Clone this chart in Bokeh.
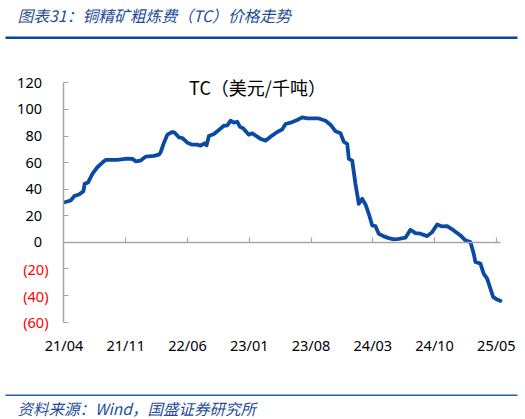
from bokeh.plotting import figure
from bokeh.models import (FixedTicker, LinearAxis, Range1d, Label, LabelSet,
                          ColumnDataSource, BoxAnnotation)
from bokeh.core.properties import value
from bokeh.embed import file_html
from bokeh.resources import INLINE

# months elapsed since 2021-04 (x), TC in USD/t (y)
months = [0.08, 0.76, 1.21, 1.70, 2.20, 2.34, 2.72, 3.22, 3.78, 4.35, 4.72, 6.05,
          7.18, 7.75, 8.12, 8.69, 9.25, 10.19, 10.76, 10.95, 11.33, 11.71, 12.28,
          12.54, 13.02, 13.41, 13.98, 14.54, 15.11, 15.48, 15.93, 16.16, 16.42,
          16.99, 17.55, 18.12, 18.51, 18.88, 19.25, 19.64, 19.93, 20.32, 20.95,
          21.34, 21.90, 22.28, 22.65, 22.84, 23.41, 24.17, 24.73, 25.11, 25.68,
          26.43, 27.00, 27.57, 28.31, 28.88, 29.64, 30.20, 30.77, 31.34, 31.71,
          32.10, 32.28, 32.66, 33.03, 33.41, 33.79, 34.17, 34.54, 34.93, 35.30,
          35.67, 36.24, 36.81, 37.37, 37.94, 38.70, 39.26, 39.83, 40.40, 41.16,
          41.72, 42.29, 42.85, 43.42, 44.17, 44.93, 45.49, 46.06, 46.43, 46.63,
          47.19, 47.56, 47.95, 48.32, 48.63, 49.08, 49.46]
tc = [30.2, 31.5, 35.0, 36.0, 38.5, 44.0, 45.0, 51.5, 56.5, 60.0, 62.0, 62.0,
      63.0, 62.8, 61.0, 61.5, 64.5, 65.0, 66.0, 67.7, 75.0, 81.0, 83.0,
      82.5, 79.0, 78.5, 75.0, 73.5, 73.5, 72.7, 74.5, 73.0, 80.0,
      81.5, 84.5, 87.7, 88.0, 91.5, 90.0, 90.7, 87.0, 85.7, 81.0,
      82.0, 79.5, 77.8, 77.0, 76.5, 79.5, 83.0, 85.0, 89.0, 90.0,
      92.0, 94.0, 93.2, 93.2, 93.2, 91.5, 88.5, 83.5, 82.0, 75.7,
      74.0, 62.8, 61.5, 44.0, 29.0, 32.8, 28.5, 21.5, 12.7, 12.2,
      6.5, 4.5, 3.2, 2.2, 2.7, 3.5, 9.5, 7.0, 6.5, 4.7,
      7.7, 13.5, 12.0, 12.2, 9.0, 5.2, 1.5, 0.2, -8.5, -14.8,
      -16.0, -23.5, -27.3, -34.7, -41.0, -43.0, -44.0]

x_tick_months = [0, 7, 14, 21, 28, 35, 42, 49]
x_tick_labels = ["21/04", "21/11", "22/06", "23/01", "23/08", "24/03", "24/10", "25/05"]
y_ticks_pos = [0, 20, 40, 60, 80, 100, 120]
y_ticks_neg = [-20, -40, -60]
y_labels_neg = ["(20)", "(40)", "(60)"]

chart_title = "TC（美元/千吨）"
header = "图表31：铜精矿粗炼费（TC）价格走势"
footer = "资料来源：Wind，国盛证券研究所"

BLUE = "#1f4e99"
LINE_BLUE = "#0a4aa3"
GRAY = "#a6a6a6"
W, H = 525, 419
X_END = 49.5          # end of the plotted time axis
Y_MIN, Y_MAX = -60, 120

# The frame fills the whole canvas; the axes sit at fixed data positions
p = figure(width=W, height=H, output_backend="svg", toolbar_location=None, title=None,
           x_range=Range1d(-7.196, 52.30), y_range=Range1d(-133.2, 181.9),
           min_border=0, x_axis_location=None, y_axis_location=None)
p.outline_line_color = None
p.xgrid.visible = False
p.ygrid.visible = False
p.background_fill_color = "white"
p.border_fill_color = "white"

LBL_FONT = "Noto Sans"
LBL_SIZE = "14.5px"

# left axis
yax = LinearAxis(ticker=FixedTicker(ticks=y_ticks_pos + y_ticks_neg),
                 fixed_location=0, bounds=(Y_MIN, Y_MAX))
yax.major_label_overrides = {**{t: str(t) for t in y_ticks_pos}, **{t: "" for t in y_ticks_neg}}
yax.axis_line_color = GRAY
yax.axis_line_width = 1.5
yax.major_tick_line_color = GRAY
yax.major_tick_line_width = 1.2
yax.major_tick_in = 5
yax.major_tick_out = 0
yax.minor_tick_line_color = None
yax.major_label_standoff = 22
yax.major_label_text_font = LBL_FONT
yax.major_label_text_font_size = LBL_SIZE
yax.major_label_text_color = "black"
p.add_layout(yax, "left")

# bottom labels axis at the bottom of the value range
xax = LinearAxis(ticker=FixedTicker(ticks=x_tick_months), fixed_location=Y_MIN,
                 bounds=(0, X_END))
xax.major_label_overrides = dict(zip(x_tick_months, x_tick_labels))
xax.axis_line_color = None
xax.major_tick_line_color = None
xax.minor_tick_line_color = None
xax.major_tick_out = 0
xax.major_tick_in = 0
xax.major_label_standoff = 13
xax.major_label_text_font = LBL_FONT
xax.major_label_text_font_size = LBL_SIZE
xax.major_label_text_color = "black"
p.add_layout(xax, "below")

# zero-line axis
zax = LinearAxis(ticker=FixedTicker(ticks=x_tick_months[1:]), fixed_location=0,
                 bounds=(0, X_END))
zax.major_label_text_color = None
zax.major_label_text_font_size = "1px"
zax.major_label_standoff = 0
zax.axis_line_color = GRAY
zax.axis_line_width = 1.5
zax.major_tick_line_color = GRAY
zax.major_tick_line_width = 1.2
zax.major_tick_in = 5
zax.major_tick_out = 0
zax.minor_tick_line_color = None
p.add_layout(zax, "below")

# red negative labels
neg_src = ColumnDataSource(dict(x=[0] * len(y_ticks_neg), y=y_ticks_neg, t=y_labels_neg))
p.add_layout(LabelSet(x="x", y="y", text="t", source=neg_src, x_offset=-15.5,
                      text_align="right", text_baseline="middle",
                      text_color="#ff0000", text_font=value(LBL_FONT),
                      text_font_size=LBL_SIZE))

p.line(months, tc, line_width=3.8, color=LINE_BLUE, line_join="round", line_cap="round")

p.add_layout(Label(x=257, y=86, x_units="canvas", y_units="canvas", text=chart_title,
                   text_align="center", text_baseline="middle",
                   text_font="Noto Sans CJK SC", text_font_size="18px", text_color="black"))

p.add_layout(Label(x=17, y=15, x_units="canvas", y_units="canvas", text=header,
                   text_align="left", text_baseline="middle", text_font_style="italic",
                   text_font="Noto Sans CJK SC", text_font_size="15.8px", text_color=BLUE))
p.add_layout(Label(x=17, y=407, x_units="canvas", y_units="canvas", text=footer,
                   text_align="left", text_baseline="middle", text_font_style="italic",
                   text_font="Noto Sans CJK SC", text_font_size="15.5px", text_color=BLUE))

p.add_layout(BoxAnnotation(left=5, right=517, top=36, bottom=38.5,
                           left_units="canvas", right_units="canvas",
                           top_units="canvas", bottom_units="canvas",
                           fill_color="#0b45a0", fill_alpha=1, line_color=None))
p.add_layout(BoxAnnotation(left=5, right=517, top=394, bottom=395.5,
                           left_units="canvas", right_units="canvas",
                           top_units="canvas", bottom_units="canvas",
                           fill_color="#2a5db0", fill_alpha=1, line_color=None))

open("out.html", "w").write(file_html(p, INLINE))
